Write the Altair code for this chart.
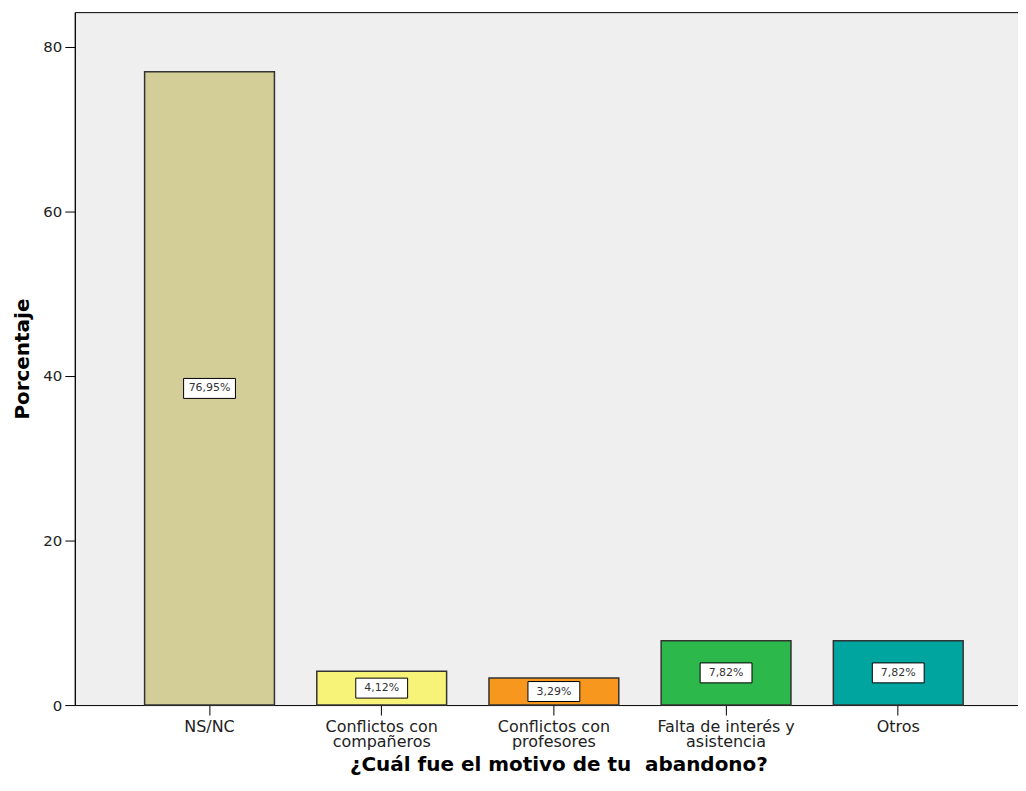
import json
import altair as alt
import pandas as pd

categories = ["NS/NC", "Conflictos con compañeros", "Conflictos con profesores",
              "Falta de interés y asistencia", "Otros"]
label_lines = [["NS/NC"], ["Conflictos con", "compañeros"], ["Conflictos con", "profesores"],
               ["Falta de interés y", "asistencia"], ["Otros"]]
values = [76.95, 4.12, 3.29, 7.82, 7.82]
colors = ["#d3cd97", "#f7f379", "#f7971e", "#2db84b", "#00a5a0"]
y_ticks = [0, 20, 40, 60, 80]

df = pd.DataFrame({"cat": categories, "value": values})

label_expr = "datum.label"
for cat, lines in reversed(list(zip(categories, label_lines))):
    label_expr = (f"datum.label === {json.dumps(cat, ensure_ascii=False)} ? "
                  f"{json.dumps(lines, ensure_ascii=False)} : ({label_expr})")

FONT = "DejaVu Sans"

x_enc = alt.X(
    "cat:N", sort=categories,
    scale=alt.Scale(paddingInner=0.246, paddingOuter=0.362, align=0.56),
    axis=alt.Axis(title="¿Cuál fue el motivo de tu\u00a0 abandono?", labelAngle=0,
                  labelExpr=label_expr, labelFont=FONT, labelFontSize=16,
                  labelLineHeight=15, labelColor="#222", labelPadding=4,
                  tickSize=10, tickColor="black", domain=False,
                  titleFont=FONT, titleFontSize=20, titleFontWeight="bold",
                  titleColor="black", titlePadding=5, titleX=485),
)

y_scale = alt.Scale(domain=[0, 84.2], nice=False)

bars = alt.Chart(df).mark_bar(stroke="#333333", strokeWidth=1.5).encode(
    x=x_enc,
    y=alt.Y("value:Q", scale=y_scale,
            axis=alt.Axis(title="Porcentaje", values=y_ticks, grid=False,
                          labelFont=FONT, labelFontSize=15, labelColor="#222",
                          labelPadding=3, tickSize=10, tickColor="black",
                          domainColor="black", titleFont=FONT, titleFontSize=20,
                          titleFontWeight="bold", titleColor="black",
                          titlePadding=10)),
    color=alt.Color("cat:N", sort=categories,
                    scale=alt.Scale(domain=categories, range=colors), legend=None),
)

base_lbl = alt.Chart(df).transform_calculate(
    mid="datum.value / 2",
    txt="replace(format(datum.value, '.2f'), '.', ',') + '%'",
)

boxes = base_lbl.mark_point(
    shape="M-1,-0.385L1,-0.385L1,0.385L-1,0.385Z", size=2704,
    filled=True, fill="white", stroke="black", strokeWidth=1, opacity=1,
).encode(
    x=alt.X("cat:N", sort=categories),
    y=alt.Y("mid:Q", scale=y_scale),
)

texts = base_lbl.mark_text(font=FONT, fontSize=11, color="#333333",
                           align="center", baseline="middle").encode(
    x=alt.X("cat:N", sort=categories),
    y=alt.Y("mid:Q", scale=y_scale),
    text="txt:N",
)

chart = alt.layer(bars, boxes, texts).properties(
    width=946, height=695,
    padding={"left": 4, "top": 3, "right": 0, "bottom": 0},
).configure_view(stroke="black", strokeWidth=1, fill="#efefef")

chart.save("out.html", embed_options={"renderer": "svg", "actions": False})
